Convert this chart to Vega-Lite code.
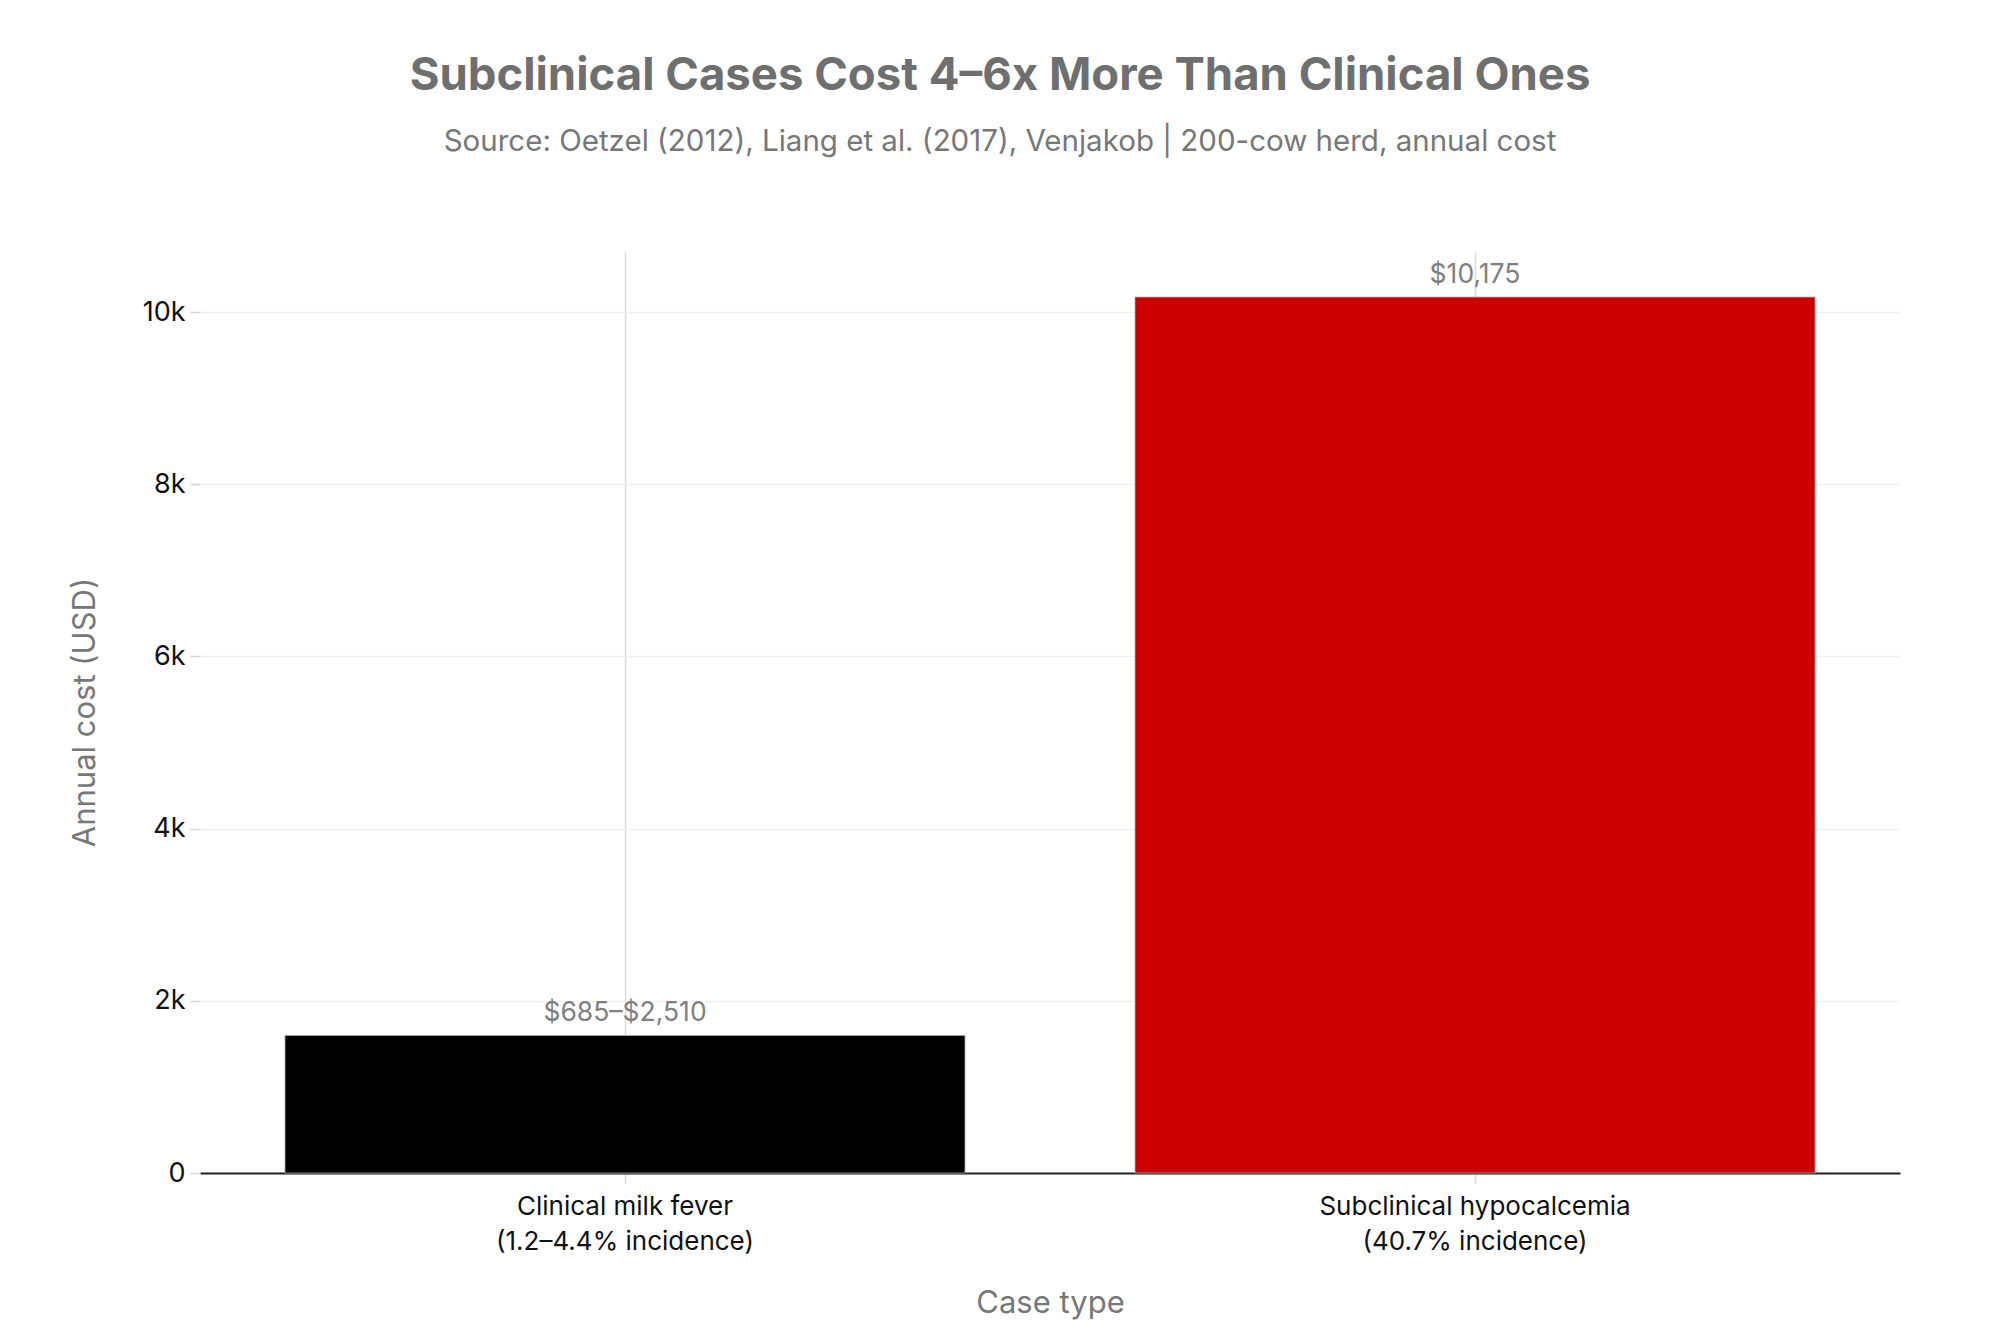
{
  "$schema": "https://vega.github.io/schema/vega-lite/v6.json",
  "width": 1700,
  "height": 922,
  "autosize": "none",
  "padding": {"left": 200, "top": 251, "right": 100, "bottom": 160},
  "background": "white",
  "config": {
    "view": {"stroke": null},
    "font": "Inter"
  },
  "title": {
    "text": "Subclinical Cases Cost 4–6x More Than Clinical Ones",
    "subtitle": "Source: Oetzel (2012), Liang et al. (2017), Venjakob | 200-cow herd, annual cost",
    "anchor": "middle",
    "dx": -50,
    "offset": 95,
    "font": "Inter",
    "fontSize": 45.5,
    "fontWeight": "bold",
    "color": "#6f6f6f",
    "subtitleFont": "Inter",
    "subtitleFontSize": 29.5,
    "subtitleColor": "#777777",
    "subtitlePadding": 28
  },
  "data": {
    "values": [
      {"case": "Clinical milk fever\n(1.2–4.4% incidence)", "cost": 1597.5, "label": "$685–$2,510", "group": "clinical"},
      {"case": "Subclinical hypocalcemia\n(40.7% incidence)", "cost": 10175, "label": "$10,175", "group": "subclinical"}
    ]
  },
  "encoding": {
    "x": {
      "field": "case",
      "type": "nominal",
      "sort": null,
      "scale": {"paddingInner": 0.2, "paddingOuter": 0.1},
      "axis": {
        "title": "Case type",
        "labelAngle": 0,
        "labelExpr": "split(datum.label, '\\n')",
        "labelLimit": 0,
        "labelFontSize": 26,
        "labelColor": "#111111",
        "labelLineHeight": 35,
        "labelPadding": 10,
        "labelBaseline": "top",
        "grid": true,
        "gridColor": "#dddddd",
        "gridWidth": 1.5,
        "ticks": true,
        "tickColor": "#d5d5d5",
        "tickSize": 10,
        "tickWidth": 1.5,
        "domainColor": "#222222",
        "domainWidth": 2.2,
        "titleFontSize": 31,
        "titleFontWeight": "normal",
        "titleColor": "#777777",
        "titlePadding": 34
      }
    },
    "y": {
      "field": "cost",
      "type": "quantitative",
      "scale": {"domain": [0, 10710], "nice": false},
      "axis": {
        "title": "Annual cost (USD)",
        "values": [0, 2000, 4000, 6000, 8000, 10000],
        "labelExpr": "datum.value == 0 ? '0' : format(datum.value / 1000, 'd') + 'k'",
        "labelFontSize": 27,
        "labelColor": "#111111",
        "labelPadding": 5,
        "domain": false,
        "grid": true,
        "gridColor": "#f0f0f0",
        "gridWidth": 1.5,
        "tickColor": "#d5d5d5",
        "tickSize": 10,
        "tickWidth": 1.5,
        "titleFontSize": 31,
        "titleFontWeight": "normal",
        "titleColor": "#777777",
        "titlePadding": 41
      }
    }
  },
  "layer": [
    {
      "mark": {"type": "bar", "stroke": "#aaaaaa", "strokeWidth": 0.8},
      "encoding": {
        "color": {
          "field": "group",
          "type": "nominal",
          "scale": {"domain": ["clinical", "subclinical"], "range": ["#000000", "#cc0000"]},
          "legend": null
        }
      }
    },
    {
      "mark": {"type": "text", "baseline": "alphabetic", "dy": -14, "fontSize": 26.5, "color": "#808080"},
      "encoding": {
        "text": {"field": "label", "type": "nominal"}
      }
    }
  ]
}
